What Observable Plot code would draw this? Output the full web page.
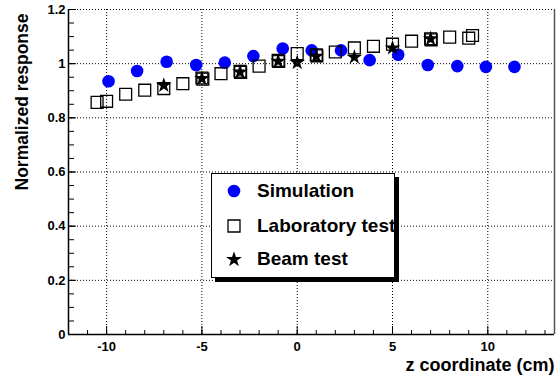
<!DOCTYPE html>
<html>
<head>
<meta charset="utf-8">
<script src="https://cdn.jsdelivr.net/npm/d3@7"></script>
<script src="https://cdn.jsdelivr.net/npm/@observablehq/plot@0.6"></script>
<style>
  html, body { margin: 0; padding: 0; background: #fff; }
  #wrap { position: relative; width: 560px; height: 380px; font-family: "Liberation Sans", Arial, Helvetica, sans-serif; }
  #legend { position: absolute; left: 211px; top: 173px; width: 182px; height: 103px; background: #fff;
            border: 1px solid #000; box-shadow: 4px 4px 0 #000; overflow: hidden; }
  .row { position: absolute; left: 0; height: 24px; white-space: nowrap; font-weight: bold; font-size: 19px; line-height: 24px; }
  .row svg { position: absolute; left: 12px; top: 2px; }
  .row span { position: absolute; left: 45px; top: 0; }
</style>
</head>
<body>
<div id="wrap"></div>
<script>
// ---- data ----
const simZ  = [-9.9, -8.4, -6.85, -5.3, -3.8, -2.3, -0.76, 0.76, 2.3, 3.8, 5.3, 6.85, 8.4, 9.9, 11.4];
const simR  = [0.935, 0.973, 1.007, 0.995, 1.004, 1.028, 1.056, 1.049, 1.049, 1.013, 1.033, 0.995, 0.991, 0.988, 0.988];

const labZ  = [-10.5, -10.0, -9.0, -8.0, -7.0, -6.0, -5.0, -4.95, -4.0, -3.0, -2.97, -2.0, -1.0, -0.97, 0.0, 1.0, 1.03, 2.0, 3.0, 4.0, 5.0, 6.0, 7.0, 7.03, 8.0, 9.0, 9.2];
const labR  = [0.857, 0.861, 0.887, 0.902, 0.908, 0.926, 0.947, 0.943, 0.963, 0.972, 0.968, 0.991, 1.012, 1.008, 1.037, 1.033, 1.029, 1.043, 1.058, 1.064, 1.072, 1.083, 1.092, 1.088, 1.098, 1.094, 1.104];

const beamZ = [-7, -5, -3, -1, 0, 1, 3, 5, 7];
const beamR = [0.920, 0.945, 0.969, 1.009, 1.004, 1.027, 1.024, 1.058, 1.092];

const seriesNames = ["Simulation", "Laboratory test", "Beam test"];

const xDomain = [-12, 13.5];
const yDomain = [0, 1.2];
const xMajor = [-10, -5, 0, 5, 10];
const xMajorLabels = ["-10", "-5", "0", "5", "10"];
const xMinor = d3.range(-12, 14, 1);
const yMajor = [0, 0.2, 0.4, 0.6, 0.8, 1.0, 1.2];
const yMajorLabels = ["0", "0.2", "0.4", "0.6", "0.8", "1", "1.2"];
const yMinor = d3.range(0, 1.2001, 0.05).map(v => +v.toFixed(2));

const xTitle = "z coordinate (cm)";
const yTitle = "Normalized response";

const sim  = simZ.map((z, i) => ({z, r: simR[i]}));
const lab  = labZ.map((z, i) => ({z, r: labR[i]}));
const beam = beamZ.map((z, i) => ({z, r: beamR[i]}));

const dotted = {stroke: "#000", strokeOpacity: 1, strokeDasharray: "1,2", strokeWidth: 1};

const chart = Plot.plot({
  width: 560,
  height: 380,
  marginLeft: 68,
  marginRight: 6,
  marginTop: 9,
  marginBottom: 46,
  style: {fontFamily: '"Liberation Sans", Arial, Helvetica, sans-serif', fontWeight: "bold", fontSize: "13px", color: "#000", background: "#fff"},
  x: {domain: xDomain},
  y: {domain: yDomain},
  marks: [
    Plot.gridX(xMajor, dotted),
    Plot.gridY(yMajor.filter(v => v > 0), dotted),
    // frame lines
    Plot.ruleX([xDomain[1]], {stroke: "#555", strokeWidth: 1.5}),
    Plot.ruleX([xDomain[0]], {stroke: "#000", strokeWidth: 1.5}),
    Plot.ruleY([yDomain[0]], {stroke: "#000", strokeWidth: 1.5}),
    // ticks (inward)
    Plot.axisX(xMinor, {tickSize: -4, text: null, label: null, strokeWidth: 1}),
    Plot.axisX(xMajor, {tickSize: -8, tickPadding: 7 + 8, tickFormat: (d, i) => xMajorLabels[i], label: null, strokeWidth: 1}),
    Plot.axisY(yMinor, {tickSize: -6, text: null, label: null, strokeWidth: 1}),
    Plot.axisY(yMajor, {tickSize: -8, tickPadding: 3 + 8, tickFormat: (d, i) => yMajorLabels[i], label: null, strokeWidth: 1}),
    // data
    Plot.dot(sim,  {x: "z", y: "r", r: 6.3, fill: "#0000ff", stroke: "none"}),
    Plot.dot(lab,  {x: "z", y: "r", r: 6.7, symbol: "square", fill: "none", stroke: "#000", strokeWidth: 1.3}),
    Plot.dot(beam, {x: "z", y: "r", r: 4.9, symbol: "star", fill: "#000", stroke: "none"}),
    // titles
    Plot.text([xTitle], {frameAnchor: "bottom-right", text: d => d, textAnchor: "end", lineAnchor: "middle", dy: 31, dx: 0, fontSize: 18, fontWeight: "bold"}),
    Plot.text([yTitle], {frameAnchor: "top-left", text: d => d, textAnchor: "end", lineAnchor: "middle", rotate: -90, dx: -46, dy: 4, fontSize: 17.5, fontWeight: "bold"})
  ]
});

const wrap = document.getElementById("wrap");
wrap.appendChild(chart);

// legend (HTML overlay)
const legend = document.createElement("div");
legend.id = "legend";
const starPath = d3.symbol(d3.symbolStar, Math.PI * 5 * 5)();
const squarePath = d3.symbol(d3.symbolSquare, 12 * 12)();
const icons = [
  `<circle cx="10" cy="10" r="6.3" fill="#0000ff"/>`,
  `<path transform="translate(10,10)" d="${squarePath}" fill="none" stroke="#000" stroke-width="1.3"/>`,
  `<path transform="translate(10,10.5)" d="${starPath}" fill="#000"/>`
];
const rowTops = [5, 40, 73];
seriesNames.forEach((name, i) => {
  const row = document.createElement("div");
  row.className = "row";
  row.style.top = rowTops[i] + "px";
  row.innerHTML = `<svg width="20" height="20">${icons[i]}</svg><span>${name}</span>`;
  legend.appendChild(row);
});
wrap.appendChild(legend);
</script>
</body>
</html>
